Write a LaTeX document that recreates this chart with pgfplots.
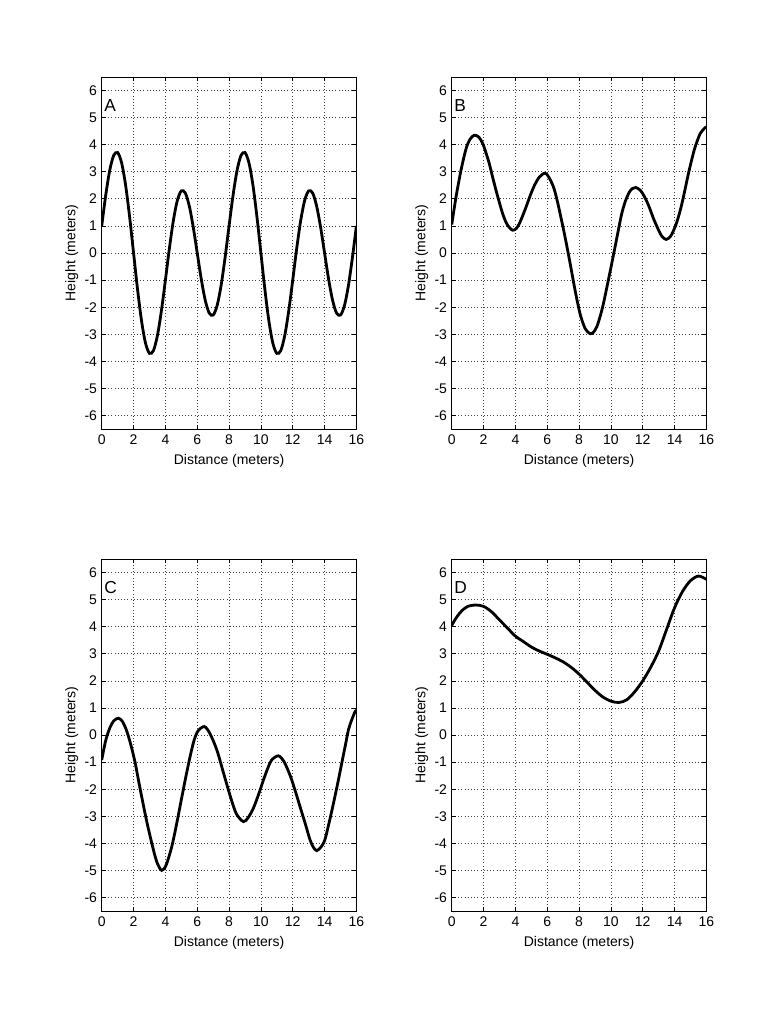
\documentclass[border=0pt]{standalone}
\usepackage{fontspec}
\setmainfont{Liberation Sans}
\usepackage{pgfplots}
\pgfplotsset{compat=1.18}
\tikzset{letter/.style={anchor=west, inner sep=0pt, font=\fontsize{13}{14}\selectfont}}
\pgfplotsset{
  panel/.style={
    scale only axis, width=191pt, height=264pt, anchor=south west,
    xmin=0, xmax=16, ymin=-6.5, ymax=6.5,
    xtick={0,2,...,16}, ytick={-6,-5,...,6},
    tick align=inside, major tick length=3pt,
    xtick pos=both, ytick pos=both,
    grid=major,
    major grid style={black!75, dotted, line width=0.5pt},
    axis line style={black, line width=0.5pt},
    tick style={black, line width=0.5pt},
    /pgf/number format/assume math mode=true,
    every tick label/.append style={font=\fontsize{10.5}{12}\selectfont},
    label style={font=\fontsize{10.5}{12}\selectfont},
    xlabel={Distance (meters)}, ylabel={Height (meters)},
    xlabel style={at={(axis description cs:0.5,-0.09)}, anchor=center},
    ylabel style={at={(axis description cs:-0.118,0.5)}, anchor=center},
    xticklabel style={yshift=-1pt},
  },
  curve/.style={black, line width=2.1pt, smooth, no markers},
}
\begin{document}
\begin{tikzpicture}
\path[use as bounding box] (0,0) rectangle (585pt,768pt);
% Panel A
\begin{axis}[panel, at={(76.3pt,446.25pt)}]
\addplot[curve] coordinates {
(0,1) (0.25,2.129) (0.5,3.045) (0.75,3.603) (1,3.707) (1.25,3.328) (1.5,2.504) (1.75,1.343)
(2,0) (2.25,-1.343) (2.5,-2.504) (2.75,-3.328) (3,-3.707) (3.25,-3.603) (3.5,-3.045) (3.75,-2.129)
(4,-1) (4.25,0.167) (4.5,1.197) (4.75,1.941) (5,2.293) (5.25,2.216) (5.5,1.738) (5.75,0.953)
(6,0) (6.25,-0.953) (6.5,-1.738) (6.75,-2.216) (7,-2.293) (7.25,-1.941) (7.5,-1.197) (7.75,-0.167)
(8,1) (8.25,2.129) (8.5,3.045) (8.75,3.603) (9,3.707) (9.25,3.328) (9.5,2.504) (9.75,1.343)
(10,0) (10.25,-1.343) (10.5,-2.504) (10.75,-3.328) (11,-3.707) (11.25,-3.603) (11.5,-3.045) (11.75,-2.129)
(12,-1) (12.25,0.167) (12.5,1.197) (12.75,1.941) (13,2.293) (13.25,2.216) (13.5,1.738) (13.75,0.953)
(14,0) (14.25,-0.953) (14.5,-1.738) (14.75,-2.216) (15,-2.293) (15.25,-1.941) (15.5,-1.197) (15.75,-0.167)
(16,1)
};
\node[letter] at (axis cs:0.15,5.45) {A};
\end{axis}
% Panel B
\begin{axis}[panel, at={(338.8pt,446.25pt)}]
\addplot[curve] coordinates {
(0,1.05) (0.27,2.07) (0.58,3.05) (0.9,3.85) (1.15,4.2) (1.42,4.35) (1.7,4.28) (1.95,4.04)
(2.15,3.7) (2.36,3.3) (2.57,2.8) (2.78,2.32) (3.0,1.85) (3.2,1.45) (3.42,1.12) (3.62,0.94)
(3.83,0.84) (4.05,0.9) (4.25,1.09) (4.46,1.38) (4.67,1.7) (4.95,2.15) (5.2,2.5) (5.5,2.8)
(5.86,2.95) (6.1,2.8) (6.39,2.44) (6.6,2.0) (6.81,1.45) (7.12,0.59) (7.44,-0.39) (7.75,-1.38)
(8.06,-2.24) (8.38,-2.79) (8.69,-2.98) (8.9,-2.93) (9.11,-2.73) (9.32,-2.35) (9.53,-1.87)
(9.84,-1.0) (10.05,-0.4) (10.26,0.22) (10.47,0.85) (10.68,1.45) (10.9,1.9) (11.16,2.25)
(11.35,2.38) (11.56,2.42) (11.84,2.32) (12.05,2.14) (12.26,1.9) (12.47,1.6) (12.67,1.28)
(12.99,0.85) (13.2,0.62) (13.47,0.5) (13.75,0.62) (14.03,0.96) (14.25,1.35) (14.46,1.82)
(14.67,2.38) (14.87,2.93) (15.08,3.45) (15.29,3.91) (15.61,4.41) (15.92,4.63) (16,4.65)
};
\node[letter] at (axis cs:0.15,5.45) {B};
\end{axis}
% Panel C
\begin{axis}[panel, at={(76.3pt,84.75pt)}]
\addplot[curve] coordinates {
(0,-0.92) (0.25,-0.2) (0.5,0.25) (0.75,0.52) (1.05,0.62) (1.3,0.5) (1.55,0.18) (1.8,-0.3)
(2.09,-1.0) (2.4,-1.95) (2.83,-3.2) (3.25,-4.25) (3.5,-4.75) (3.77,-5.0) (4.05,-4.8)
(4.4,-4.12) (4.7,-3.3) (5.03,-2.3) (5.3,-1.5) (5.55,-0.8) (5.8,-0.2) (6.05,0.15) (6.45,0.31)
(6.8,0.05) (7.23,-0.55) (7.65,-1.4) (8.07,-2.25) (8.45,-2.9) (8.9,-3.2) (9.2,-3.05) (9.53,-2.7)
(9.85,-2.2) (10.16,-1.66) (10.45,-1.2) (10.68,-0.92) (11.1,-0.77) (11.45,-0.98) (11.84,-1.5)
(12.15,-2.05) (12.46,-2.65) (12.8,-3.3) (13.09,-3.88) (13.3,-4.15) (13.51,-4.27) (13.8,-4.12)
(14.03,-3.85) (14.3,-3.2) (14.56,-2.52) (14.82,-1.8) (15.08,-1.04) (15.3,-0.4) (15.5,0.19)
(15.7,0.55) (15.92,0.87) (16,0.92)
};
\node[letter] at (axis cs:0.15,5.45) {C};
\end{axis}
% Panel D
\begin{axis}[panel, at={(338.8pt,84.75pt)}]
\addplot[curve] coordinates {
(0,4.05) (0.25,4.3) (0.5,4.5) (0.75,4.65) (1,4.75) (1.5,4.8) (2,4.75) (2.5,4.55) (3,4.25)
(3.5,3.95) (4,3.65) (4.5,3.45) (5,3.25) (5.5,3.1) (6,2.98) (6.5,2.85) (7,2.7) (7.5,2.5)
(8,2.25) (8.5,1.95) (9,1.65) (9.5,1.4) (10,1.25) (10.5,1.2) (11,1.3) (11.5,1.6) (12,2.0)
(12.5,2.5) (13,3.1) (13.5,3.9) (14,4.7) (14.5,5.3) (15,5.7) (15.5,5.87) (16,5.75)
};
\node[letter] at (axis cs:0.15,5.45) {D};
\end{axis}
\end{tikzpicture}
\end{document}
